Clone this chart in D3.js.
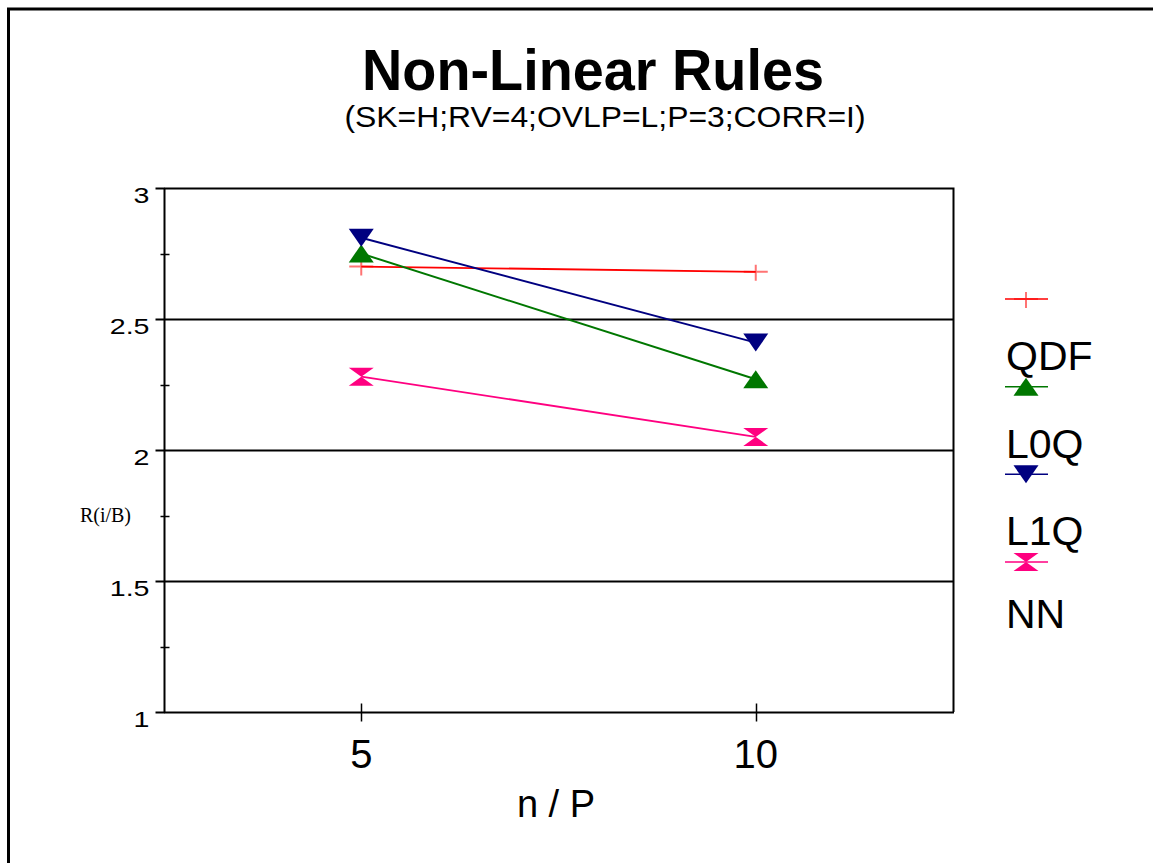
<!DOCTYPE html>
<html>
<head>
<meta charset="utf-8">
<script src="https://cdn.jsdelivr.net/npm/d3@7"></script>
<style>
  body { margin: 0; background: #fff; }
  text { font-family: Arial, "Liberation Sans", sans-serif; }
</style>
</head>
<body>
<svg width="1153" height="863"></svg>
<script>
// data
var xValues = [5, 10];
var seriesNames = ["QDF", "L0Q", "L1Q", "NN"];
var qdf = [2.70, 2.68];
var l0q = [2.75, 2.27];
var l1q = [2.81, 2.41];
var nn  = [2.28, 2.05];
var yTicks = [1, 1.5, 2, 2.5, 3];
var yMinor = [1.25, 1.75, 2.25, 2.75];
var colors = ["#ff0000", "#007700", "#000080", "#ff0080"];
var shapes = ["plus", "up", "down", "bowtie"];

var svg = d3.select("svg");

// outer frame (runs off the right and bottom)
svg.append("path")
    .attr("d", "M8.5,863 L8.5,9 L1153,9")
    .attr("fill", "none").attr("stroke", "#000").attr("stroke-width", 3);

var margin = {top: 188, left: 164, right: 953, bottom: 712};

var x = d3.scaleLinear().domain([2.5, 12.5]).range([margin.left, margin.right]);
var y = d3.scaleLinear().domain([1, 3]).range([margin.bottom, margin.top]);

// title
svg.append("text")
    .attr("x", 593).attr("y", 90)
    .attr("text-anchor", "middle")
    .attr("font-size", 58).attr("font-weight", "bold")
    .attr("textLength", 462).attr("lengthAdjust", "spacingAndGlyphs")
    .text("Non-Linear Rules");
svg.append("text")
    .attr("x", 605).attr("y", 127)
    .attr("text-anchor", "middle")
    .attr("font-size", 30)
    .attr("textLength", 521).attr("lengthAdjust", "spacingAndGlyphs")
    .text("(SK=H;RV=4;OVLP=L;P=3;CORR=I)");

// gridlines
svg.append("g").selectAll("line")
    .data([1.5, 2, 2.5])
    .enter().append("line")
    .attr("x1", margin.left).attr("x2", margin.right)
    .attr("y1", function(d) { return Math.round(y(d)) + 0.5; })
    .attr("y2", function(d) { return Math.round(y(d)) + 0.5; })
    .attr("stroke", "#000").attr("stroke-width", 2);

// plot box top / right
svg.append("path")
    .attr("d", "M" + margin.left + "," + (margin.top + 0.5) + " H" + (margin.right + 0.5) + " V" + margin.bottom)
    .attr("fill", "none").attr("stroke", "#000").attr("stroke-width", 2);

// y axis
var yAxis = svg.append("g").attr("transform", "translate(" + (margin.left + 0.5) + ",0)");
yAxis.append("line")
    .attr("y1", margin.top).attr("y2", margin.bottom + 1)
    .attr("stroke", "#000").attr("stroke-width", 2);
yAxis.selectAll(".major").data(yTicks).enter().append("line")
    .attr("x1", -9).attr("x2", 0)
    .attr("y1", function(d) { return Math.round(y(d)) + 0.5; })
    .attr("y2", function(d) { return Math.round(y(d)) + 0.5; })
    .attr("stroke", "#000").attr("stroke-width", 2);
yAxis.selectAll(".minor").data(yMinor).enter().append("line")
    .attr("x1", -4).attr("x2", 5)
    .attr("y1", function(d) { return Math.round(y(d)) + 0.5; })
    .attr("y2", function(d) { return Math.round(y(d)) + 0.5; })
    .attr("stroke", "#000").attr("stroke-width", 1.5);
// tick labels in the source are drawn wide, so stretch them horizontally
yAxis.selectAll("text").data(yTicks).enter().append("text")
    .attr("transform", function(d) { return "translate(-15," + (y(d) + 15) + ") scale(1.3,1)"; })
    .attr("text-anchor", "end")
    .attr("font-size", 22)
    .text(function(d) { return d; });

svg.append("text")
    .attr("x", 131).attr("y", 522)
    .attr("text-anchor", "end")
    .style("font-family", "'Liberation Serif', 'Times New Roman', serif")
    .attr("font-size", 20)
    .text("R(i/B)");

// x axis
var xAxis = svg.append("g").attr("transform", "translate(0," + (margin.bottom + 0.5) + ")");
xAxis.append("line")
    .attr("x1", margin.left).attr("x2", margin.right + 1)
    .attr("stroke", "#000").attr("stroke-width", 2);
xAxis.selectAll(".tick").data(xValues).enter().append("line")
    .attr("x1", function(d) { return Math.round(x(d)) + 0.5; })
    .attr("x2", function(d) { return Math.round(x(d)) + 0.5; })
    .attr("y1", -9).attr("y2", 9)
    .attr("stroke", "#000").attr("stroke-width", 1.5);
xAxis.selectAll("text").data(xValues).enter().append("text")
    .attr("x", function(d) { return x(d); })
    .attr("y", 55)
    .attr("text-anchor", "middle")
    .attr("font-size", 40)
    .text(function(d) { return d; });

svg.append("text")
    .attr("x", 556).attr("y", 817)
    .attr("text-anchor", "middle")
    .attr("font-size", 38)
    .text("n / P");

// markers
function marker(g, shape, color, cx, cy) {
  var w = 12.5, h = 9;
  if (shape === "plus") {
    g.append("path")
      .attr("d", "M" + (cx - 12) + "," + cy + " H" + (cx + 12) + " M" + cx + "," + (cy - 7) + " V" + (cy + 9))
      .attr("stroke", color).attr("stroke-opacity", 0.55).attr("stroke-width", 2).attr("fill", "none");
  } else if (shape === "up") {
    g.append("path")
      .attr("d", "M" + (cx - w) + "," + (cy + h) + " L" + (cx + w) + "," + (cy + h) + " L" + cx + "," + (cy - h) + "Z")
      .attr("fill", color);
  } else if (shape === "down") {
    g.append("path")
      .attr("d", "M" + (cx - w) + "," + (cy - h) + " L" + (cx + w) + "," + (cy - h) + " L" + cx + "," + (cy + h) + "Z")
      .attr("fill", color);
  } else {
    g.append("path")
      .attr("d", "M" + (cx - w) + "," + (cy - h) + " L" + (cx + w) + "," + (cy - h) + " L" + (cx - w) + "," + (cy + h) +
                 " L" + (cx + w) + "," + (cy + h) + "Z")
      .attr("fill", color);
  }
}

var allSeries = [qdf, l0q, l1q, nn];
var line = d3.line()
    .x(function(d, i) { return x(xValues[i]); })
    .y(function(d) { return y(d); });

var plot = svg.append("g");
allSeries.forEach(function(s, k) {
  plot.append("path")
      .attr("d", line(s))
      .attr("fill", "none")
      .attr("stroke", colors[k])
      .attr("stroke-width", 1.9);
});
allSeries.forEach(function(s, k) {
  s.forEach(function(v, i) {
    marker(plot, shapes[k], colors[k], x(xValues[i]), y(v));
  });
});

// legend (labels sit under the swatch above them, as in the source)
var legend = svg.append("g");
var legY = d3.scaleLinear().domain([0, 3]).range([299, 562]);
seriesNames.forEach(function(name, k) {
  var cy = legY(k);
  legend.append("line")
      .attr("x1", 1005).attr("x2", 1048)
      .attr("y1", cy).attr("y2", cy)
      .attr("stroke", colors[k]).attr("stroke-width", 1.5);
  marker(legend, shapes[k], colors[k], 1026, cy);
  legend.append("text")
      .attr("x", 1006)
      .attr("y", cy + 71 - (k === 3 ? 5 : 0))
      .attr("font-size", 41)
      .text(name);
});
</script>
</body>
</html>
